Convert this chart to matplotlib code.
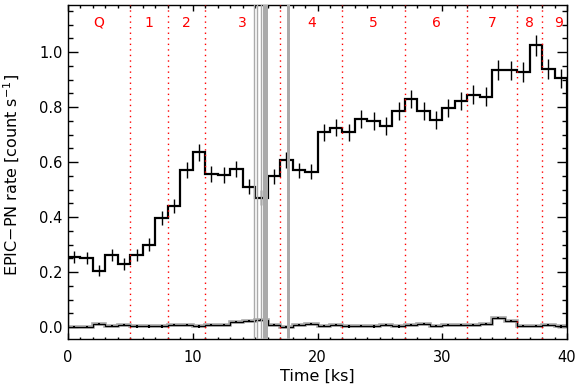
import numpy as np
import matplotlib.pyplot as plt
from matplotlib.ticker import MultipleLocator

# 1 ks bins, 0-40 ks
edges = np.arange(0, 41, 1)

# EPIC-PN source rate per bin
rate = [0.256, 0.252, 0.205, 0.262, 0.229, 0.263, 0.300, 0.396, 0.440, 0.571,
        0.635, 0.556, 0.553, 0.576, 0.510, 0.470, 0.548, 0.608, 0.570, 0.565,
        0.708, 0.725, 0.709, 0.756, 0.749, 0.731, 0.787, 0.828, 0.787, 0.753,
        0.797, 0.821, 0.845, 0.838, 0.935, 0.933, 0.928, 1.025, 0.939, 0.905]
rate_err = [0.022, 0.022, 0.021, 0.022, 0.021, 0.022, 0.023, 0.025, 0.026, 0.029,
            0.030, 0.028, 0.028, 0.029, 0.027, 0.027, 0.028, 0.029, 0.028, 0.028,
            0.031, 0.031, 0.031, 0.032, 0.032, 0.031, 0.033, 0.033, 0.033, 0.032,
            0.033, 0.033, 0.034, 0.034, 0.036, 0.036, 0.036, 0.038, 0.036, 0.035]

# background rate per bin
bkg = [0.000, 0.001, 0.011, 0.005, 0.007, 0.002, 0.002, 0.002, 0.007, 0.006,
       0.002, 0.007, 0.007, 0.019, 0.021, 0.026, 0.007, -0.001, 0.007, 0.010,
       0.005, 0.006, 0.002, 0.005, 0.002, 0.008, 0.002, 0.007, 0.010, 0.005,
       0.008, 0.006, 0.006, 0.011, 0.034, 0.023, 0.004, 0.004, 0.006, 0.002]
bkg_err = [0.004] * 40

# interval boundaries and labels
boundaries = [5, 8, 11, 17, 22, 27, 32, 36, 38]
seg_labels = ['Q', '1', '2', '3', '4', '5', '6', '7', '8', '9']
seg_label_x = [2.5, 6.5, 9.5, 14.0, 19.5, 24.5, 29.5, 34.0, 37.0, 39.3]

# excluded (gray) time ranges
gap_lines = [14.94, 15.12, 15.47]
gap_bands = [(15.60, 16.06), (17.57, 17.80)]

plt.rcParams['font.family'] = 'DejaVu Sans'
plt.rcParams['font.size'] = 10

fig = plt.figure(figsize=(5.79, 3.90), dpi=100)
ax = fig.add_axes([68 / 579, 1 - 339 / 390, (567 - 68) / 579, (339 - 5) / 390])

centers = 0.5 * (edges[:-1] + edges[1:])

# source light curve
ax.stairs(rate, edges, color='black', linewidth=1.6, zorder=3)
ax.errorbar(centers, rate, yerr=rate_err, fmt='none', ecolor='black',
            elinewidth=1.0, capsize=0, zorder=3)

# background light curve
ax.stairs(bkg, edges, color='#aaaaaa', linewidth=2.6, zorder=2)
ax.stairs(bkg, edges, color='black', linewidth=0.9, zorder=3)
ax.errorbar(centers, bkg, yerr=bkg_err, fmt='none', ecolor='black',
            elinewidth=1.5, capsize=0, zorder=3)

for b in boundaries:
    ax.axvline(b, color='red', linestyle=(0, (1, 3)), linewidth=1.0, zorder=4)

for g in gap_lines:
    ax.axvline(g, color='#aaaaaa', linewidth=1.0, zorder=5)
for x0, x1 in gap_bands:
    ax.axvspan(x0, x1, color='#aaaaaa', linewidth=0, zorder=5)

for lab, xl in zip(seg_labels, seg_label_x):
    ax.text(xl, 1.107, lab, color='red', ha='center', va='center', fontsize=10)

ax.set_xlim(0, 40)
ax.set_ylim(-0.0436, 1.171)
ax.xaxis.set_major_locator(MultipleLocator(10))
ax.xaxis.set_minor_locator(MultipleLocator(1))
ax.yaxis.set_major_locator(MultipleLocator(0.2))
ax.yaxis.set_minor_locator(MultipleLocator(0.05))
ax.yaxis.set_major_formatter(plt.FormatStrFormatter('%.1f'))
ax.tick_params(axis='both', which='both', direction='in', top=True, right=True,
               width=1.0, labelsize=10.5)
ax.tick_params(axis='x', which='major', length=4.5, pad=8)
ax.tick_params(axis='x', which='minor', length=1.8)
ax.tick_params(axis='y', which='major', length=7, pad=4)
ax.tick_params(axis='y', which='minor', length=3.6)
for s in ax.spines.values():
    s.set_linewidth(1.0)

ax.set_xlabel('Time [ks]', fontsize=11.5, labelpad=3)
ax.set_ylabel('EPIC\u2212PN rate [count s$^{-1}$]', fontsize=11.5)
ax.yaxis.set_label_coords(-0.092, 0.49)

fig.savefig('out.png', dpi=100)
